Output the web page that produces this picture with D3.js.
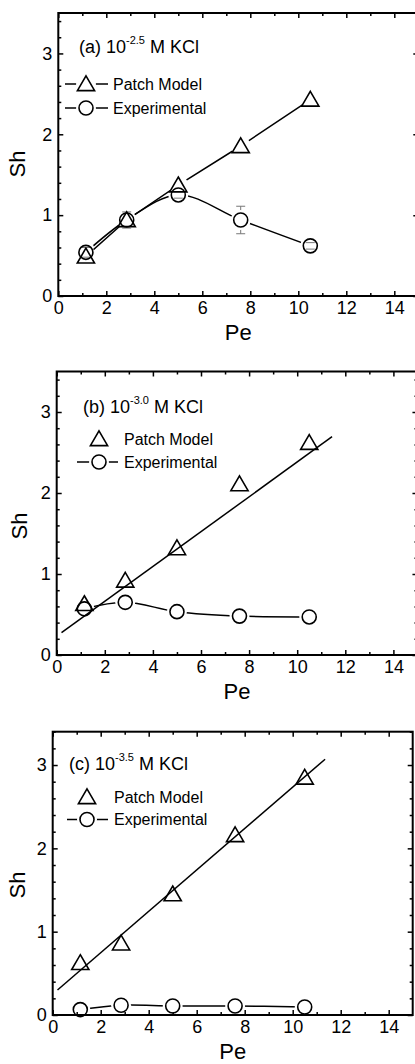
<!DOCTYPE html>
<html>
<head>
<meta charset="utf-8">
<script src="https://cdn.jsdelivr.net/npm/d3@7"></script>
<style>
  body { margin: 0; background: #fff; }
  svg text { font-family: "Liberation Sans", Arial, sans-serif; fill: #000; }
</style>
</head>
<body>
<svg id="chart" width="415" height="1064"></svg>
<script>
/* Pe values shared by every panel */
const peValues = [1.15, 2.85, 5.0, 7.6, 10.5];

/* (a) 10^-2.5 M KCl */
const shModelA = [0.49, 0.94, 1.37, 1.855, 2.43];
const shExpA = [0.54, 0.94, 1.25, 0.94, 0.62];
const shErrA = [0.06, 0.10, 0.04, 0.17, 0.04];

/* (b) 10^-3.0 M KCl */
const shModelB = [0.63, 0.92, 1.32, 2.11, 2.62];
const shExpB = [0.57, 0.65, 0.535, 0.48, 0.47];
const fitPeB = [0.2, 11.45];
const fitShB = [0.275, 2.695];

/* (c) 10^-3.5 M KCl */
const shModelC = [0.625, 0.86, 1.45, 2.16, 2.85];
const shExpC = [0.065, 0.117, 0.108, 0.108, 0.096];
const fitPeC = [0.2, 11.35];
const fitShC = [0.30, 3.07];

const xTicks = [0, 2, 4, 6, 8, 10, 12, 14];
const xMinorTicks = [1, 3, 5, 7, 9, 11, 13];
const yTicks = [0, 1, 2, 3];

const svg = d3.select("#chart");

/* panel layout in page pixels */
let panels = [
    {
        id: "a", label: "(a) 10", sup: "-2.5",
        left: 58.3, bottom: 296, top: 13, yMax: 3.5, pxPerPe: 24,
        model: shModelA, exp: shExpA, err: shErrA, fitPe: null, fitSh: null,
        modelLine: true,
        titlePos: [79, 53],
        legend: { y1: 84, y2: 108, lineX: [65, 108], markX: 86, textX: 113 },
        shPos: [25, 164]
    },
    {
        id: "b", label: "(b) 10", sup: "-3.0",
        left: 56.7, bottom: 655, top: 371.5, yMax: 3.5, pxPerPe: 24.05,
        model: shModelB, exp: shExpB, err: null, fitPe: fitPeB, fitSh: fitShB,
        modelLine: false,
        titlePos: [83, 413],
        legend: { y1: 439, y2: 462, lineX: [77, 118], markX: 99, textX: 124 },
        shPos: [26.5, 526]
    },
    {
        id: "c", label: "(c) 10", sup: "-3.5",
        left: 52.7, bottom: 1015, top: 731.7, yMax: 3.4, pxPerPe: 24,
        model: shModelC, exp: shExpC, err: null, fitPe: fitPeC, fitSh: fitShC,
        modelLine: false,
        titlePos: [69, 769.5],
        legend: { y1: 797, y2: 819.5, lineX: [67, 108], markX: 87, textX: 114 },
        shPos: [25, 885]
    }
];

const circleR = 7;
const triPath = "M0,-8.2L8.6,6.6L-8.6,6.6Z";
const gapR = 10;

let defs = svg.append("defs");

/* mask that hides a line around each marker, like Origin's line gaps */
function makeMask(id, pts) {
    let m = defs.append("mask").attr("id", id).attr("maskUnits", "userSpaceOnUse")
        .attr("x", 0).attr("y", 0).attr("width", 415).attr("height", 1064);
    m.append("rect").attr("width", 415).attr("height", 1064).attr("fill", "#fff");
    pts.forEach(p => {
        m.append("circle").attr("cx", p[0]).attr("cy", p[1]).attr("r", p[2]).attr("fill", "#000");
    });
}

panels.forEach(p => {
    let xScale = d3.scaleLinear().domain([0, 15]).range([p.left, p.left + 15 * p.pxPerPe]);
    let yScale = d3.scaleLinear().domain([0, p.yMax]).range([p.bottom, p.top]);
    let g = svg.append("g").attr("class", "panel-" + p.id);

    let yMinor = d3.range(0, p.yMax + 0.001, 0.2).filter(v => Math.abs(v - Math.round(v)) > 0.01);

    /* axes: ticks point inward on all four sides */
    g.append("g").attr("transform", "translate(0," + p.bottom + ")")
        .call(d3.axisBottom(xScale).tickValues(xTicks).tickSize(-5).tickPadding(5).tickFormat(d3.format("d")));
    g.append("g").attr("transform", "translate(0," + p.bottom + ")")
        .call(d3.axisBottom(xScale).tickValues(xMinorTicks).tickSize(-3).tickFormat(""));
    g.append("g").attr("transform", "translate(0," + p.top + ")")
        .call(d3.axisTop(xScale).tickValues(xTicks).tickSize(-5).tickFormat(""));
    g.append("g").attr("transform", "translate(0," + p.top + ")")
        .call(d3.axisTop(xScale).tickValues(xMinorTicks).tickSize(-3).tickFormat(""));

    g.append("g").attr("transform", "translate(" + p.left + ",0)")
        .call(d3.axisLeft(yScale).tickValues(yTicks).tickSize(-5).tickPadding(6).tickFormat(d3.format("d")));
    g.append("g").attr("transform", "translate(" + p.left + ",0)")
        .call(d3.axisLeft(yScale).tickValues(yMinor).tickSize(-3).tickFormat(""));
    let right = xScale(15);
    g.append("g").attr("transform", "translate(" + right + ",0)")
        .call(d3.axisRight(yScale).tickValues(yTicks).tickSize(-5).tickFormat(""));
    g.append("g").attr("transform", "translate(" + right + ",0)")
        .call(d3.axisRight(yScale).tickValues(yMinor).tickSize(-3).tickFormat(""));

    g.selectAll("path.domain").remove();
    g.selectAll(".tick line").attr("stroke", "#000").attr("stroke-width", 1.5);
    g.selectAll(".tick text").style("font-size", "18px").attr("fill", "#000");

    /* frame */
    g.append("rect")
        .attr("x", p.left).attr("y", p.top)
        .attr("width", right - p.left).attr("height", p.bottom - p.top)
        .attr("fill", "none").attr("stroke", "#000").attr("stroke-width", 2);

    /* axis titles */
    g.append("text")
        .attr("x", xScale(7.5)).attr("y", p.bottom + 44)
        .attr("text-anchor", "middle").style("font-size", "22px")
        .text("Pe");
    g.append("text")
        .attr("transform", "translate(" + p.shPos[0] + "," + p.shPos[1] + ")rotate(-90)")
        .attr("text-anchor", "middle").style("font-size", "22px")
        .text("Sh");

    /* panel label with superscript exponent */
    let title = g.append("text")
        .attr("x", p.titlePos[0]).attr("y", p.titlePos[1])
        .style("font-size", "18px");
    title.append("tspan").text(p.label);
    title.append("tspan").attr("dy", -9).style("font-size", "11px").text(p.sup);
    title.append("tspan").attr("dy", 9).text(" M KCl");

    let modelPts = peValues.map((v, i) => [xScale(v), yScale(p.model[i])]);
    let expPts = peValues.map((v, i) => [xScale(v), yScale(p.exp[i])]);

    makeMask("mask-model-" + p.id, modelPts.map(d => [d[0], d[1], gapR]).concat(
        [[p.legend.markX, p.legend.y1, gapR]]));
    makeMask("mask-exp-" + p.id, expPts.map(d => [d[0], d[1], circleR + 3]).concat(
        [[p.legend.markX, p.legend.y2, circleR + 3]]));

    /* patch model: connected line (a) or linear fit (b, c) */
    if (p.modelLine) {
        g.append("path")
            .attr("d", d3.line()(modelPts))
            .attr("fill", "none").attr("stroke", "#000").attr("stroke-width", 1.5)
            .attr("mask", "url(#mask-model-" + p.id + ")");
    }
    if (p.fitPe) {
        g.append("line")
            .attr("x1", xScale(p.fitPe[0])).attr("y1", yScale(p.fitSh[0]))
            .attr("x2", xScale(p.fitPe[1])).attr("y2", yScale(p.fitSh[1]))
            .attr("stroke", "#000").attr("stroke-width", 1.5);
    }

    /* experimental: spline through points */
    g.append("path")
        .attr("d", d3.line().curve(d3.curveCatmullRom.alpha(0.5))(expPts))
        .attr("fill", "none").attr("stroke", "#000").attr("stroke-width", 1.5)
        .attr("mask", "url(#mask-exp-" + p.id + ")");

    /* error bars */
    if (p.err) {
        peValues.forEach((v, i) => {
            let x = xScale(v);
            let yHi = yScale(p.exp[i] + p.err[i]);
            let yLo = yScale(p.exp[i] - p.err[i]);
            g.append("line").attr("x1", x).attr("x2", x).attr("y1", yHi).attr("y2", yLo)
                .attr("stroke", "#777").attr("stroke-width", 1)
                .attr("mask", "url(#mask-exp-" + p.id + ")");
            [yHi, yLo].forEach(y => {
                g.append("line").attr("x1", x - 4.5).attr("x2", x + 4.5).attr("y1", y).attr("y2", y)
                    .attr("stroke", "#777").attr("stroke-width", 1);
            });
        });
    }

    /* markers */
    g.selectAll("path.tri").data(modelPts).join("path")
        .attr("class", "tri")
        .attr("d", triPath)
        .attr("transform", d => "translate(" + d[0] + "," + d[1] + ")")
        .attr("fill", "none").attr("stroke", "#000").attr("stroke-width", 1.6);
    g.selectAll("circle.exp").data(expPts).join("circle")
        .attr("class", "exp")
        .attr("cx", d => d[0]).attr("cy", d => d[1]).attr("r", circleR)
        .attr("fill", "none").attr("stroke", "#000").attr("stroke-width", 1.6);

    /* legend */
    let lg = p.legend;
    if (p.modelLine) {
        g.append("line")
            .attr("x1", lg.lineX[0]).attr("x2", lg.lineX[1]).attr("y1", lg.y1).attr("y2", lg.y1)
            .attr("stroke", "#000").attr("stroke-width", 1.5)
            .attr("mask", "url(#mask-model-" + p.id + ")");
    }
    g.append("path").attr("d", triPath)
        .attr("transform", "translate(" + lg.markX + "," + lg.y1 + ")")
        .attr("fill", "none").attr("stroke", "#000").attr("stroke-width", 1.6);
    g.append("text").attr("x", lg.textX).attr("y", lg.y1).attr("dy", "0.36em")
        .style("font-size", "16px").text("Patch Model");

    g.append("line")
        .attr("x1", lg.lineX[0]).attr("x2", lg.lineX[1]).attr("y1", lg.y2).attr("y2", lg.y2)
        .attr("stroke", "#000").attr("stroke-width", 1.5)
        .attr("mask", "url(#mask-exp-" + p.id + ")");
    g.append("circle").attr("cx", lg.markX).attr("cy", lg.y2).attr("r", circleR)
        .attr("fill", "none").attr("stroke", "#000").attr("stroke-width", 1.6);
    g.append("text").attr("x", lg.textX).attr("y", lg.y2).attr("dy", "0.36em")
        .style("font-size", "16px").text("Experimental");
});
</script>
</body>
</html>
